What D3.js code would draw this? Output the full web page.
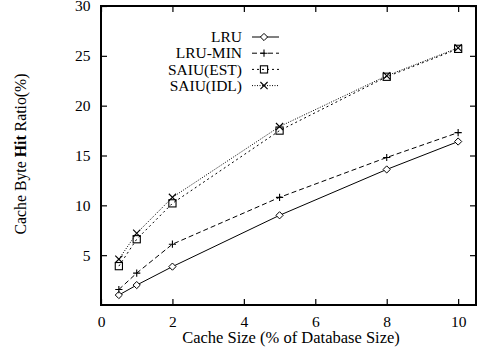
<!DOCTYPE html>
<html>
<head>
<meta charset="utf-8">
<script src="https://cdn.jsdelivr.net/npm/d3@7"></script>
<style>
  body { margin: 0; background: #fff; }
  svg { display: block; }
</style>
</head>
<body>
<svg id="chart" width="477" height="352"></svg>
<script>
// Cache size as % of database size
const cacheSizes = [0.5, 1, 2, 5, 8, 10];

// Byte hit ratio (%) per policy
const lru      = [1.0, 2.0, 3.85, 9.0, 13.6, 16.4];
const lruMin   = [1.55, 3.2, 6.1, 10.8, 14.8, 17.3];
const saiuEst  = [3.9, 6.6, 10.2, 17.5, 22.9, 25.7];
const saiuIdl  = [4.6, 7.2, 10.8, 17.9, 23.0, 25.8];

const seriesNames = ["LRU", "LRU-MIN", "SAIU(EST)", "SAIU(IDL)"];
const xTicks = [0, 2, 4, 6, 8, 10];
const yTicks = [5, 10, 15, 20, 25, 30];

const series = [
  { name: seriesNames[0], values: lru,     dash: null,  marker: "diamond" },
  { name: seriesNames[1], values: lruMin,  dash: "5,3", marker: "plus" },
  { name: seriesNames[2], values: saiuEst, dash: "2,3", marker: "square" },
  { name: seriesNames[3], values: saiuIdl, dash: "1,1.5", marker: "cross" }
];

const FONT = "'Liberation Serif', 'Times New Roman', Times, serif";

const svg = d3.select("#chart").attr("font-family", FONT);
const m = { left: 101, right: 476, top: 6, bottom: 305 };

const x = d3.scaleLinear().domain([0, 10.5]).range([m.left, m.right]);
const y = d3.scaleLinear().domain([0, 30]).range([m.bottom, m.top]);

// Axes with inward ticks on all four sides
const tickLen = 6;
const gx = svg.append("g").attr("transform", `translate(0,${m.bottom})`)
  .call(d3.axisBottom(x).tickValues(xTicks).tickSizeInner(-tickLen).tickSizeOuter(0).tickPadding(11));
const gxTop = svg.append("g").attr("transform", `translate(0,${m.top})`)
  .call(d3.axisTop(x).tickValues(xTicks).tickSizeInner(-tickLen).tickSizeOuter(0).tickFormat(""));
const gy = svg.append("g").attr("transform", `translate(${m.left},0)`)
  .call(d3.axisLeft(y).tickValues(yTicks).tickSizeInner(-tickLen).tickSizeOuter(0).tickPadding(10.5));
const gyR = svg.append("g").attr("transform", `translate(${m.right},0)`)
  .call(d3.axisRight(y).tickValues(yTicks).tickSizeInner(-tickLen).tickSizeOuter(0).tickFormat(""));

[gx, gxTop, gy, gyR].forEach(g => {
  g.attr("font-family", FONT).attr("font-size", 15.5);
  g.select(".domain").remove();
  g.selectAll(".tick line").attr("stroke", "#000").attr("stroke-width", 1.2);
  g.selectAll(".tick text").attr("fill", "#000");
});

// Plot frame
svg.append("rect")
  .attr("x", m.left).attr("y", m.top)
  .attr("width", m.right - m.left).attr("height", m.bottom - m.top)
  .attr("fill", "none").attr("stroke", "#000").attr("stroke-width", 2);

// Axis titles
svg.append("text")
  .attr("x", 291).attr("y", 343)
  .attr("text-anchor", "middle").attr("font-size", 16.5)
  .text("Cache Size (% of Database Size)");

const yl = svg.append("text")
  .attr("transform", "translate(26,154) rotate(-90)")
  .attr("text-anchor", "middle").attr("font-size", 15.8);
yl.append("tspan").text("Cache Byte ");
yl.append("tspan").attr("font-weight", "bold").text("Hit");
yl.append("tspan").text(" Ratio(%)");

// Marker shapes
function drawMarker(g, type, cx, cy) {
  const s = 3.6;
  if (type === "diamond") {
    g.append("path").attr("d", `M${cx},${cy - s}L${cx + s},${cy}L${cx},${cy + s}L${cx - s},${cy}Z`)
      .attr("fill", "#fff").attr("stroke", "#000").attr("stroke-width", 1);
  } else if (type === "plus") {
    g.append("path").attr("d", `M${cx - s},${cy}H${cx + s}M${cx},${cy - s}V${cy + s}`)
      .attr("stroke", "#000").attr("stroke-width", 1.1).attr("fill", "none");
  } else if (type === "square") {
    g.append("rect").attr("x", cx - s).attr("y", cy - s).attr("width", 2 * s).attr("height", 2 * s)
      .attr("fill", "none").attr("stroke", "#000").attr("stroke-width", 1.1);
  } else if (type === "cross") {
    g.append("path").attr("d", `M${cx - s},${cy - s}L${cx + s},${cy + s}M${cx - s},${cy + s}L${cx + s},${cy - s}`)
      .attr("stroke", "#000").attr("stroke-width", 1.1).attr("fill", "none");
  }
}

const line = d3.line().x((d, i) => x(cacheSizes[i])).y(d => y(d));

series.forEach(s => {
  const g = svg.append("g");
  g.append("path").datum(s.values).attr("d", line)
    .attr("fill", "none").attr("stroke", "#000").attr("stroke-width", 1)
    .attr("stroke-dasharray", s.dash);
  s.values.forEach((v, i) => drawMarker(g, s.marker, x(cacheSizes[i]), y(v)));
});

// Legend
const legendX = 242, legendY0 = 37, legendDy = 16.2;
series.forEach((s, i) => {
  const ly = legendY0 + i * legendDy;
  const g = svg.append("g");
  g.append("text").attr("x", legendX).attr("y", ly).attr("dy", "0.34em")
    .attr("text-anchor", "end").attr("font-size", 15.5).text(s.name);
  g.append("line").attr("x1", 252).attr("x2", 279).attr("y1", ly).attr("y2", ly)
    .attr("stroke", "#000").attr("stroke-width", 1).attr("stroke-dasharray", s.dash);
  drawMarker(g, s.marker, 264, ly);
});
</script>
</body>
</html>
